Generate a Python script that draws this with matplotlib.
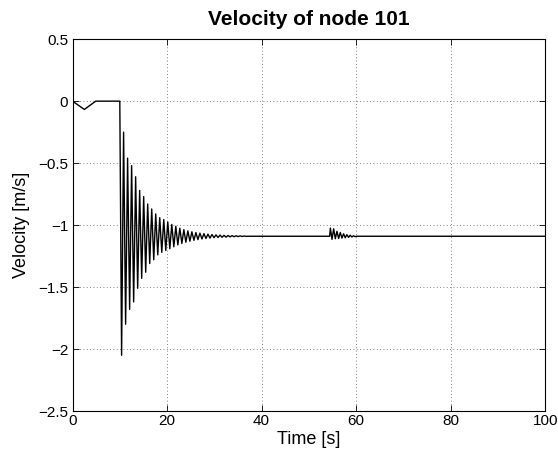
import matplotlib
matplotlib.use("Agg")
import matplotlib.pyplot as plt

# ---- data ----
# initial segment (before the impact)
t_start = [0.0, 2.5, 4.9, 10.0]
v_start = [0.0, -0.067, 0.0, 0.0]

# extremes of the damped oscillation after t = 10 s
t_osc = [10.38, 10.80, 11.23, 11.65, 12.08, 12.50, 12.93, 13.35, 13.78, 14.20,
         14.63, 15.05, 15.48, 15.90, 16.33, 16.75, 17.18, 17.60, 18.03, 18.45,
         18.88, 19.30, 19.73, 20.15, 20.58, 21.00, 21.43, 21.85, 22.28, 22.70,
         23.13, 23.55, 23.98, 24.40, 24.83, 25.25, 25.68, 26.10, 26.53, 26.95,
         27.38, 27.80, 28.23, 28.65, 29.08, 29.50, 29.93, 30.35, 30.78, 31.20,
         31.63, 32.05, 32.48, 32.90, 33.33, 33.75, 34.18, 34.60, 35.03, 35.45,
         35.88, 36.30, 36.73, 37.15]
v_osc = [-2.05, -0.25, -1.80, -0.46, -1.68, -0.52, -1.62, -0.61, -1.51, -0.72,
         -1.43, -0.77, -1.38, -0.83, -1.31, -0.87, -1.28, -0.91, -1.24, -0.94,
         -1.22, -0.955, -1.205, -0.975, -1.19, -0.995, -1.175, -1.01, -1.16, -1.025,
         -1.148, -1.037, -1.138, -1.047, -1.13, -1.054, -1.123, -1.06, -1.117, -1.065,
         -1.112, -1.069, -1.108, -1.073, -1.105, -1.076, -1.102, -1.079, -1.100, -1.081,
         -1.098, -1.083, -1.097, -1.084, -1.095, -1.085, -1.094, -1.086, -1.093, -1.087,
         -1.092, -1.088, -1.091, -1.090]

# second, small disturbance around t = 55 s
t_dist = [54.40, 54.55, 54.90, 55.25, 55.60, 55.95, 56.30, 56.65, 57.00, 57.35,
          57.70, 58.05, 58.40, 58.75, 59.10, 59.45, 59.80, 60.15, 100.0]
v_dist = [-1.090, -1.024, -1.115, -1.030, -1.110, -1.050, -1.108, -1.060, -1.105, -1.070,
          -1.102, -1.077, -1.099, -1.082, -1.096, -1.086, -1.093, -1.090, -1.090]

x_ticks = [0, 20, 40, 60, 80, 100]
y_ticks = [0.5, 0, -0.5, -1, -1.5, -2, -2.5]
y_tick_labels = ["0.5", "0", "\u22120.5", "\u22121", "\u22121.5", "\u22122", "\u22122.5"]

title = "Velocity of node 101"
x_label = "Time [s]"
y_label = "Velocity [m/s]"

# ---- plotting ----
plt.rcParams['font.family'] = ['Liberation Sans', 'DejaVu Sans']

fig = plt.figure(figsize=(5.58, 4.54), dpi=100)
ax = fig.add_axes([0.130, 0.0947, 0.847, 0.819])

t_all = t_start + t_osc + t_dist
v_all = v_start + v_osc + v_dist
ax.plot(t_all, v_all, color='black', linewidth=1.0)

ax.set_xlim(0, 100)
ax.set_ylim(-2.5, 0.5)
ax.set_xticks(x_ticks)
ax.set_xticklabels([str(v) for v in x_ticks])
ax.set_yticks(y_ticks)
ax.set_yticklabels(y_tick_labels)

ax.grid(True, color='0.35', linestyle=(0, (1, 3)), linewidth=0.6)
ax.tick_params(direction='in', length=4, width=0.6, top=True, right=True,
               labelsize=11, colors='black')
ax.tick_params(axis='y', pad=3)
ax.tick_params(axis='x', pad=2.5)
for s in ax.spines.values():
    s.set_linewidth(0.8)

ax.set_title(title, fontsize=15, fontweight='bold', pad=10)
ax.set_xlabel(x_label, fontsize=13, labelpad=2)
ax.set_ylabel(y_label, fontsize=13, labelpad=6)

fig.savefig("out.png", dpi=100)
